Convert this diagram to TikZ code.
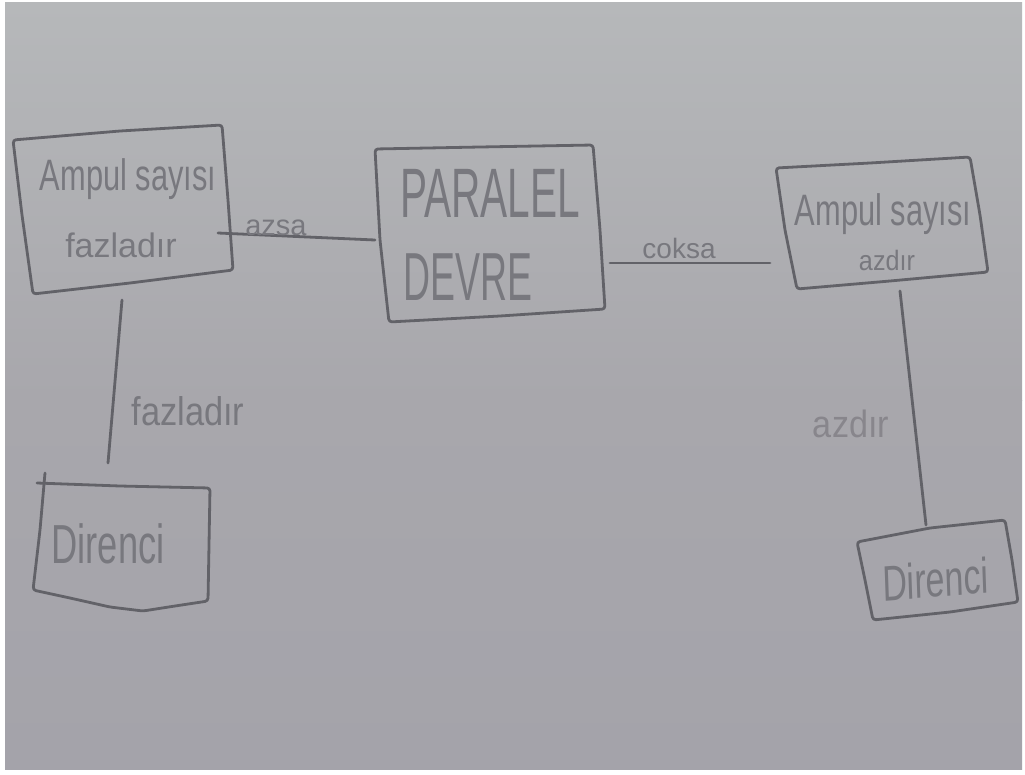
\documentclass[tikz,border=0pt]{standalone}
\usepackage{fontspec}
\setmainfont{Liberation Sans}
\begin{document}
\begin{tikzpicture}[x=1pt,y=-1pt,
  pencil/.style={draw=lineC, line width=2.8pt, line cap=round, line join=round, rounded corners=3pt},
  hand/.style={text=textC, inner sep=0pt, anchor=base},
  faint/.style={text=faintC, inner sep=0pt, anchor=base}]
\definecolor{paperTop}{RGB}{182,184,186}
\definecolor{paperMid}{RGB}{168,167,172}
\definecolor{paperBot}{RGB}{164,163,170}
\definecolor{lineC}{RGB}{98,98,104}
\definecolor{textC}{RGB}{120,120,126}
\definecolor{faintC}{RGB}{136,134,140}
\useasboundingbox (0,0) rectangle (1025,774);
% paper sheet
\fill[white] (0,0) rectangle (1025,774);
\shade[top color=paperTop, bottom color=paperMid] (5,2) rectangle (1022,400);
\shade[top color=paperMid, bottom color=paperBot] (5,400) rectangle (1022,769);

% ---- box: Ampul sayısı fazladır
\draw[pencil] (13,140) -- (120,131) -- (222,125) -- (228,200) -- (233,270)
  -- (130,283) -- (33,294) -- (22,215) -- cycle;
\node[hand, font=\fontsize{44}{44}\selectfont, xscale=0.70] (a1) at (128,190) {Ampul sayısı};
\node[hand, font=\fontsize{34}{34}\selectfont] (a2) at (121,257) {fazladır};

% ---- box: PARALEL DEVRE
\draw[pencil] (375,149) -- (480,147) -- (593,145) -- (600,230) -- (605,309)
  -- (500,316) -- (389,322) -- (380,240) -- cycle;
\node[hand, font=\fontsize{70}{70}\selectfont, xscale=0.58] (p1) at (490,217) {PARALEL};
\node[hand, font=\fontsize{68}{68}\selectfont, xscale=0.55] (p2) at (468,300) {DEVRE};

% ---- box: Ampul sayısı azdır
\draw[pencil] (776,168) -- (870,163) -- (970,157) -- (980,215) -- (988,272)
  -- (890,281) -- (797,289) -- (785,230) -- cycle;
\node[hand, font=\fontsize{44}{44}\selectfont, xscale=0.70] (c1) at (883,225) {Ampul sayısı};
\node[hand, font=\fontsize{28}{28}\selectfont, xscale=0.9] (c2) at (887,270) {azdır};

% ---- box: Direnci (left)
\draw[pencil] (45,473) -- (40,530) -- (33,590) -- (70,598) -- (110,607) -- (143,611)
  -- (175,606) -- (208,601) -- (209,545) -- (210,488) -- (120,486) -- (37,483);
\node[hand, font=\fontsize{55}{55}\selectfont, xscale=0.66] (d1) at (108,563) {Direnci};

% ---- box: Direnci (right)
\draw[pencil] (857,542) -- (930,528) -- (1005,520) -- (1012,560) -- (1018,602)
  -- (950,612) -- (873,620) -- (865,580) -- cycle;
\node[hand, font=\fontsize{50}{50}\selectfont, xscale=0.68, rotate=3] (d2) at (936,597) {Direnci};

% ---- connectors
\coordinate (aR) at (218,233);
\coordinate (pL) at (375,240);
\coordinate (pR) at (610,263);
\coordinate (cL) at (770,263);
\coordinate (aB) at (122,300);
\coordinate (dT) at (108,463);
\coordinate (cB) at (900,291);
\coordinate (eT) at (926,525);
\draw[pencil] (aR) -- (pL);
\draw[pencil] (pR) -- (cL);
\draw[pencil] (aB) -- (dT);
\draw[pencil] (cB) -- (eT);

% ---- connector labels
\node[hand, font=\fontsize{29}{29}\selectfont] (l1) at (276,235) {azsa};
\node[hand, font=\fontsize{28}{28}\selectfont] (l2) at (679,258) {coksa};
\node[hand, font=\fontsize{40}{40}\selectfont, xscale=0.86] (l3) at (188,425) {fazladır};
\node[faint, font=\fontsize{38}{38}\selectfont, xscale=0.9] (l4) at (851,437) {azdır};
\end{tikzpicture}
\end{document}
